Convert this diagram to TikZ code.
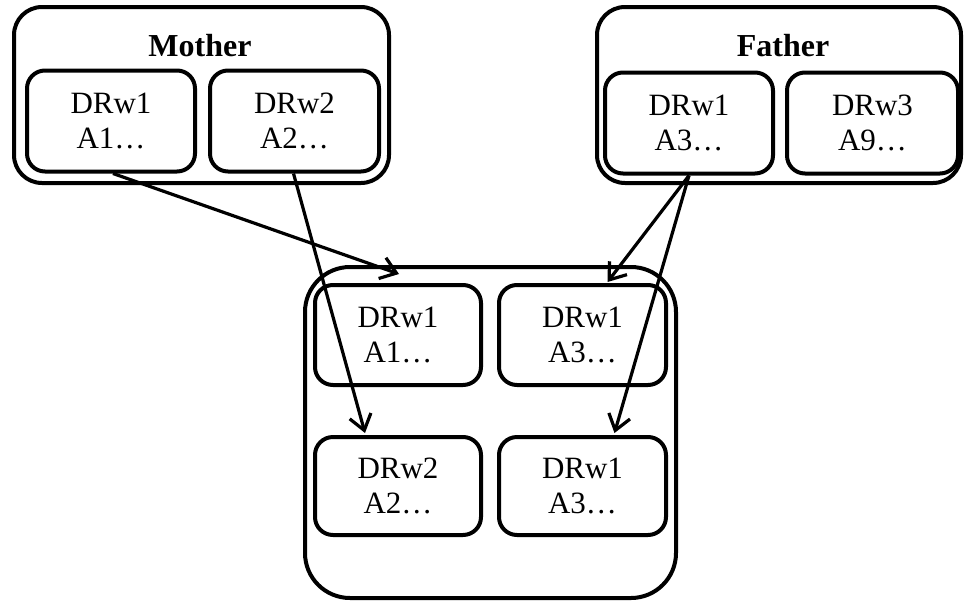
\documentclass[tikz,border=0pt]{standalone}
\usepackage{fontspec}
\setmainfont{Liberation Serif}
\usetikzlibrary{arrows.meta,calc}
\begin{document}
\begin{tikzpicture}[x=1pt,y=-1pt,
  outerbox/.style={draw,line width=4pt,rounded corners=28pt,inner sep=0pt},
  genebox/.style={draw,line width=4pt,rounded corners=18pt,inner sep=0pt,
    minimum width=168pt,minimum height=101pt,align=center,
    font=\fontsize{31}{35}\selectfont},
  grouplabel/.style={font=\fontsize{32}{38}\selectfont\bfseries},
  link/.style={line width=3.2pt,-{Straight Barb[length=15pt,width=22pt,line width=3.2pt]}}]
\useasboundingbox (0,0) rectangle (964,603);
% Mother
\node[outerbox,minimum width=375pt,minimum height=176pt] (mother) at (201.5,95) {};
\node[grouplabel] (mlabel) at (200,46) {Mother};
\node[genebox] (m1) at (111,121) {DRw1\\A1\ldots};
\node[genebox,minimum width=169pt] (m2) at (294.5,121) {DRw2\\A2\ldots};
% Father
\node[outerbox,minimum width=364pt,minimum height=176pt] (father) at (779,95) {};
\node[grouplabel] (flabel) at (783,46) {Father};
\node[genebox] (f1) at (689,123) {DRw1\\A3\ldots};
\node[genebox,minimum width=171pt] (f2) at (872.5,123) {DRw3\\A9\ldots};
% Child
\node[outerbox,rounded corners=45pt,minimum width=371pt,minimum height=331pt] (child) at (490.5,432.5) {};
\node[genebox,minimum width=166pt,minimum height=100pt] (ctl) at (398,335) {DRw1\\A1\ldots};
\node[genebox,minimum width=167pt,minimum height=100pt] (ctr) at (582.5,335) {DRw1\\A3\ldots};
\node[genebox,minimum width=166pt,minimum height=98pt] (cbl) at (398,486) {DRw2\\A2\ldots};
\node[genebox,minimum width=167pt,minimum height=98pt] (cbr) at (582.5,486) {DRw1\\A3\ldots};
% Connectors
\coordinate (a1end) at (399,274);
\draw[link] ($(m1.south)+(2,0)$) -- (a1end);
\draw[link] ($(m2.south)+(-1,0)$) -- ($(cbl.north)+(-33,-2)$);
\draw[link] (f1.south) -- ($(ctr.north)+(25,-1)$);
\draw[link] (f1.south) -- ($(cbr.north)+(32,-2)$);
\end{tikzpicture}
\end{document}
